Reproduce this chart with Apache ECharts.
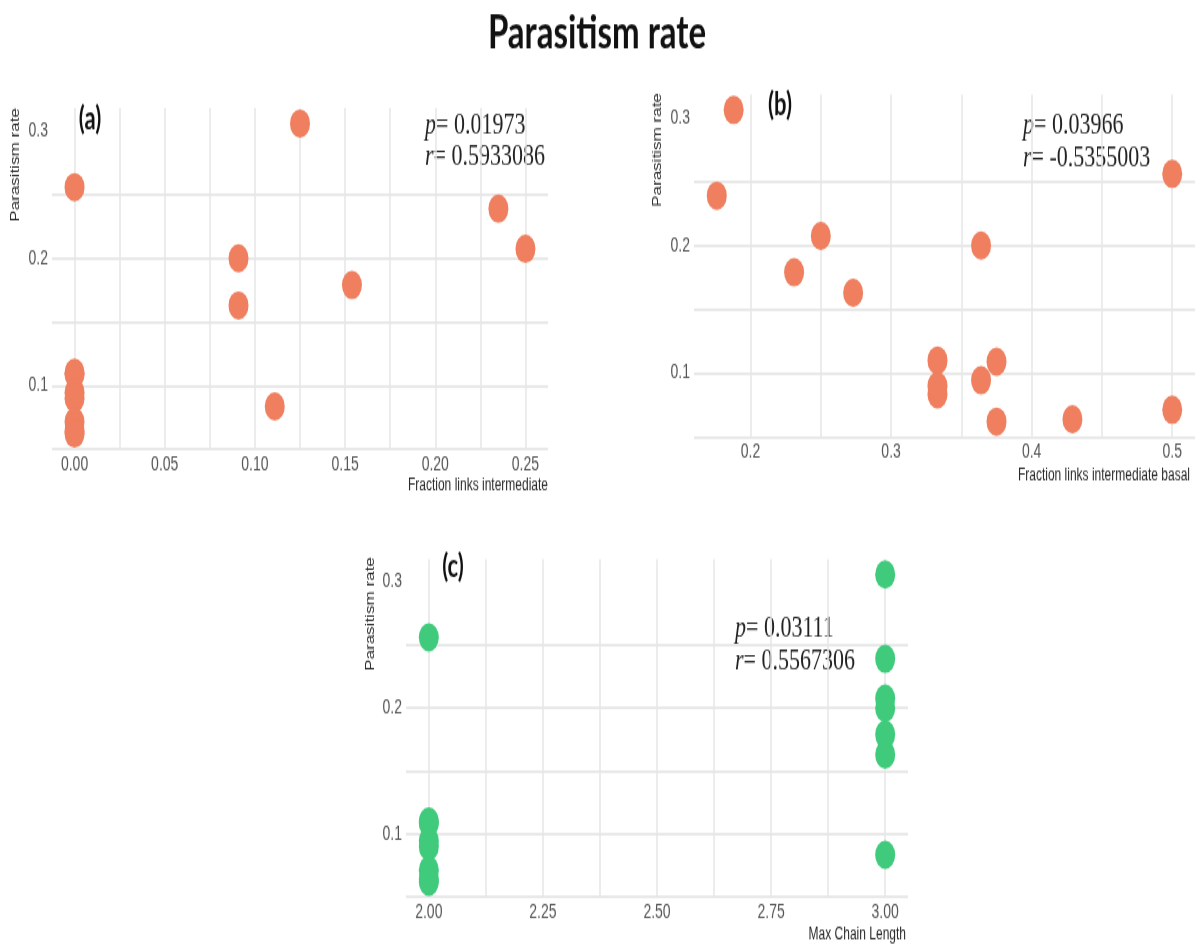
<!DOCTYPE html>
<html>
<head>
<meta charset="utf-8">
<script src="https://cdn.jsdelivr.net/npm/echarts@6/dist/echarts.min.js"></script>
<style>
  html, body { margin: 0; padding: 0; background: #ffffff; overflow: hidden; }
  #wrap { width: 1197px; height: 945px; overflow: hidden; }
  #chart { width: 1197px; height: 665px; transform: scaleY(1.4211); transform-origin: 0 0; }
</style>
</head>
<body>
<div id="wrap"><div id="chart"></div></div>
<script>
// ---- data (one entry per observation) ----
const parasitismRate        = [0.306, 0.256, 0.239, 0.2075, 0.200, 0.179, 0.163, 0.0835, 0.110, 0.109, 0.0945, 0.090, 0.0714, 0.064, 0.0622];
const fracIntermediate      = [0.125, 0.000, 0.235, 0.250, 0.0909, 0.1538, 0.0909, 0.111, 0, 0, 0, 0, 0, 0, 0];
const fracIntermediateBasal = [0.188, 0.500, 0.176, 0.250, 0.364, 0.231, 0.273, 0.333, 0.333, 0.375, 0.364, 0.333, 0.500, 0.429, 0.375];
const maxChainLength        = [3, 2, 3, 3, 3, 3, 3, 3, 2, 2, 2, 2, 2, 2, 2];

// ---- ticks ----
const yLabels  = [0.1, 0.2, 0.3];
const yGrid    = [0.05, 0.1, 0.15, 0.2, 0.25, 0.3];
const aXLabels = [0, 0.05, 0.10, 0.15, 0.20, 0.25];
const aXGrid   = [0, 0.025, 0.05, 0.075, 0.10, 0.125, 0.15, 0.175, 0.20, 0.225, 0.25];
const bXLabels = [0.2, 0.3, 0.4, 0.5];
const bXGrid   = [0.2, 0.25, 0.3, 0.35, 0.4, 0.45, 0.5];
const cXLabels = [2.00, 2.25, 2.50, 2.75, 3.00];
const cXGrid   = [2.00, 2.125, 2.25, 2.375, 2.50, 2.625, 2.75, 2.875, 3.00];

// ---- text ----
const title = 'Parasitism rate';
const yTitle = 'Parasitism rate';
const xTitles = ['Fraction links intermediate', 'Fraction links intermediate basal', 'Max Chain Length'];
const panelTags = ['(a)', '(b)', '(c)'];
const pValues = ['0.01973', '0.03966', '0.03111'];
const rValues = ['0.5933086', '-0.5355003', '0.5567306'];

const ORANGE = '#EF7F5E';
const GREEN = '#3FCB7B';
const tickFont = { color: '#555555', fontSize: 14, fontFamily: 'Liberation Sans, Arial, sans-serif' };

function zip(xs, ys) { return xs.map((x, i) => [x, ys[i]]); }

function xAxis(idx, min, max, labels, gridVals, digits) {
  return {
    type: 'value', gridIndex: idx, min: min, max: max,
    axisLine: { show: false },
    axisTick: { show: false, customValues: gridVals },
    axisLabel: Object.assign({ customValues: labels, margin: 4, formatter: v => Number(v).toFixed(digits) }, tickFont),
    splitLine: { show: true, showMinLine: true, showMaxLine: true, lineStyle: { color: '#e6e6e6', width: 1.5 } },
    minorSplitLine: { show: false }
  };
}
function yAxis(idx) {
  return {
    type: 'value', gridIndex: idx, min: 0.05, max: 0.3182,
    axisLine: { show: false },
    axisTick: { show: false, customValues: yGrid },
    axisLabel: Object.assign({ customValues: yLabels, margin: 4, formatter: v => Number(v).toFixed(1) }, tickFont),
    splitLine: { show: true, showMinLine: true, showMaxLine: false, lineStyle: { color: '#e9e9e9', width: 2 } }
  };
}

const grids = [
  { left: 52,  top: 76.0,  width: 496, height: 240.0 },
  { left: 694, top: 66.4,  width: 501, height: 241.2 },
  { left: 406, top: 393.4, width: 502, height: 237.8 }
];

const annPos = [[425, 99.2], [1023, 99.6], [735, 453.9]];
const tagPos = [[90, 84.4], [780, 73.9], [453, 399]];
const xTitlePos = [[548, 342], [1190, 334.3], [906, 658]];
const yTitlePos = [[15.5, 76], [658, 65.5], [371, 392]];

const graphics = [{
  type: 'text', x: 597, y: 23.2,
  style: { text: title, fill: '#111', fontSize: 33, fontWeight: 'bold', fontFamily: 'Lato, Open Sans, sans-serif',
           align: 'center', textAlign: 'center', verticalAlign: 'middle', textVerticalAlign: 'middle' }
}];
for (let i = 0; i < 3; i++) {
  graphics.push({
    type: 'text', x: tagPos[i][0], y: tagPos[i][1],
    style: { text: panelTags[i], fill: '#111', fontSize: 22, fontWeight: 'bold', fontFamily: 'Lato, Open Sans, sans-serif',
             align: 'center', textAlign: 'center', verticalAlign: 'middle', textVerticalAlign: 'middle' }
  });
  graphics.push({
    type: 'text', x: annPos[i][0], y: annPos[i][1],
    style: {
      text: '{i|p}= ' + pValues[i] + '\n{i|r}= ' + rValues[i],
      fill: '#222', fontSize: 22, fontFamily: 'Liberation Serif, Times New Roman, serif', lineHeight: 22.5,
      align: 'left', textAlign: 'left', verticalAlign: 'middle', textVerticalAlign: 'middle',
      rich: { i: { fontStyle: 'italic', fontSize: 22, fontFamily: 'Liberation Serif, Times New Roman, serif', fill: '#222', lineHeight: 22.5 } }
    }
  });
  graphics.push({
    type: 'text', x: xTitlePos[i][0], y: xTitlePos[i][1],
    style: { text: xTitles[i], fill: '#2a2a2a', fontSize: 12, fontFamily: 'Liberation Sans, Arial, sans-serif',
             align: 'right', textAlign: 'right', verticalAlign: 'middle', textVerticalAlign: 'middle' }
  });
  graphics.push({
    type: 'text', x: yTitlePos[i][0], y: yTitlePos[i][1], rotation: Math.PI / 2,
    style: { text: yTitle, fill: '#2a2a2a', fontSize: 12, fontFamily: 'Liberation Sans, Arial, sans-serif',
             align: 'right', textAlign: 'right', verticalAlign: 'middle', textVerticalAlign: 'middle' }
  });
}

const chart = echarts.init(document.getElementById('chart'), null, { renderer: 'canvas' });
chart.setOption({
  backgroundColor: '#ffffff',
  animation: false,
  grid: grids,
  xAxis: [
    xAxis(0, -0.0125, 0.2625, aXLabels, aXGrid, 2),
    xAxis(1, 0.1598, 0.5162, bXLabels, bXGrid, 1),
    xAxis(2, 1.95, 3.05, cXLabels, cXGrid, 2)
  ],
  yAxis: [yAxis(0), yAxis(1), yAxis(2)],
  series: [
    { type: 'scatter', xAxisIndex: 0, yAxisIndex: 0, symbol: 'circle', symbolSize: 20, itemStyle: { color: ORANGE, opacity: 1 },
      data: zip(fracIntermediate, parasitismRate) },
    { type: 'scatter', xAxisIndex: 1, yAxisIndex: 1, symbol: 'circle', symbolSize: 20, itemStyle: { color: ORANGE, opacity: 1 },
      data: zip(fracIntermediateBasal, parasitismRate) },
    { type: 'scatter', xAxisIndex: 2, yAxisIndex: 2, symbol: 'circle', symbolSize: 20, itemStyle: { color: GREEN, opacity: 1 },
      data: zip(maxChainLength, parasitismRate) }
  ],
  graphic: { elements: graphics }
});
</script>
</body>
</html>
